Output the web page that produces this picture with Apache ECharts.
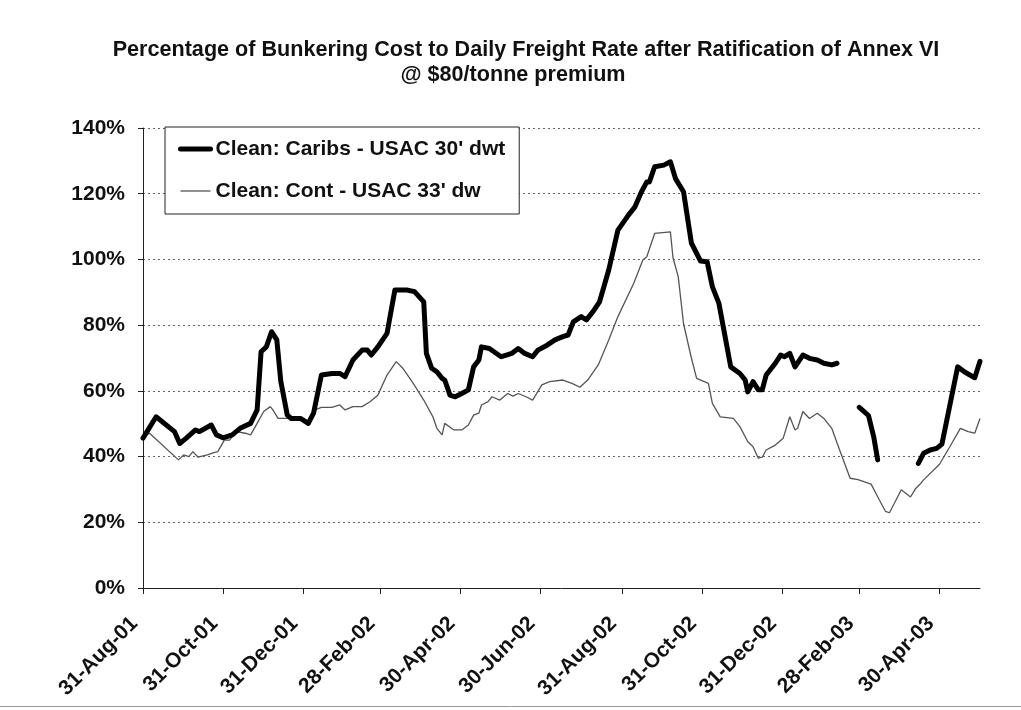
<!DOCTYPE html>
<html>
<head>
<meta charset="utf-8">
<title>Bunkering Cost vs Daily Freight Rate</title>
<script src="https://cdn.jsdelivr.net/npm/echarts@6/dist/echarts.min.js"></script>
<style>
  html, body { margin: 0; padding: 0; background: #fff; }
  #chart { width: 1021px; height: 710px; }
</style>
</head>
<body>
<div id="chart"></div>
<script>
// X values are days elapsed since 31-Aug-01; Y values are percentages.
const tickDays = [0, 61, 122, 181, 242, 303, 365, 426, 487, 546, 607];
const tickLabels = ['31-Aug-01', '31-Oct-01', '31-Dec-01', '28-Feb-02', '30-Apr-02', '30-Jun-02',
                    '31-Aug-02', '31-Oct-02', '31-Dec-02', '28-Feb-03', '30-Apr-03'];
const lastDay = 638;

const yTicks = [0, 20, 40, 60, 80, 100, 120, 140];

const titleLines = ['Percentage of Bunkering Cost to Daily Freight Rate after Ratification of Annex VI',
                    '@ $80/tonne premium'];
const seriesNames = ["Clean: Caribs - USAC 30' dwt", "Clean: Cont - USAC 33' dw"];

// Clean: Caribs - USAC 30' dwt  (null = no quote)
const caribs = [
  [0,45.6],[10,52.1],[24,47.6],[28,44.0],[33,45.6],[40,48.1],[43,47.6],[52,49.6],[56,46.6],[61,45.7],
  [68,46.6],[74,48.6],[82,50.1],[87,54.2],[90,71.9],[94,73.4],[98,78.0],[102,75.5],[105,63.0],[110,52.6],
  [113,51.6],[120,51.6],[126,50.1],[130,53.2],[136,64.8],[144,65.3],[150,65.3],[154,64.3],[160,69.4],[167,72.4],
  [171,72.4],[174,70.9],[179,73.4],[186,77.5],[192,90.7],[201,90.7],[207,90.2],[214,87.1],[216,71.4],[220,66.9],
  [224,65.8],[228,63.8],[230,63.3],[234,58.7],[238,58.2],[243,59.2],[248,60.3],[252,67.3],[256,69.4],[258,73.4],
  [264,72.9],[273,70.4],[277,70.9],[281,71.4],[286,72.9],[291,71.4],[297,70.4],[301,72.4],[308,73.9],[314,75.5],
  [320,76.5],[324,77.0],[328,81.0],[334,82.6],[338,81.6],[343,84.1],[348,87.1],[355,96.8],[362,108.9],[370,113.5],
  [375,116.0],[380,120.6],[384,123.6],[386,123.6],[390,128.2],[397,128.7],[402,129.7],[406,124.5],[412,120.6],[418,105.0],
  [425,99.5],[430,99.3],[434,91.7],[439,86.6],[448,67.3],[455,65.3],[459,63.3],[461,59.7],[465,62.8],[469,60.3],
  [472,60.3],[475,64.8],[482,68.4],[486,70.9],[489,70.4],[493,71.4],[497,67.3],[503,70.9],[508,69.9],[514,69.4],
  [519,68.4],[525,67.9],[529,68.4],[537,null],[546,55.0],[553,52.5],[557,46.0],[560,39.0],[575,null],[591,37.9],
  [595,41.0],[600,42.0],[605,42.5],[609,43.8],[621,67.3],[626,65.8],[634,64.0],[638,69.0]
];

// Clean: Cont - USAC 33' dw
const cont = [
  [0,46.1],[5,47.1],[27,39.0],[31,40.5],[35,40.0],[38,41.5],[42,39.8],[49,40.5],[54,41.2],[57,41.5],
  [62,45.0],[66,45.0],[71,47.6],[78,47.1],[82,46.6],[87,50.1],[92,53.7],[97,55.2],[99,54.2],[103,51.6],
  [110,51.6],[120,51.6],[126,50.6],[131,54.2],[136,55.0],[144,55.0],[150,55.7],[154,54.2],[160,55.2],[167,55.2],
  [173,56.7],[179,58.7],[186,64.8],[193,68.9],[198,66.9],[206,62.3],[214,57.2],[221,52.1],[224,48.6],[228,46.6],
  [230,50.1],[237,48.1],[243,48.1],[248,49.6],[252,52.6],[256,53.2],[258,55.7],[263,56.7],[266,58.2],[272,57.2],
  [278,59.2],[282,58.4],[286,59.2],[292,58.2],[297,57.2],[304,61.8],[310,62.8],[320,63.3],[327,62.3],[333,61.1],
  [339,63.3],[347,67.9],[355,75.5],[362,82.6],[374,92.7],[381,99.8],[384,100.8],[390,107.9],[402,108.4],[404,100.5],
  [408,94.7],[412,80.5],[418,70.0],[422,63.8],[431,62.3],[434,56.2],[440,52.1],[450,51.6],[455,49.1],[461,44.5],
  [465,43.0],[469,39.5],[472,39.8],[475,42.0],[482,43.5],[488,45.6],[493,52.1],[497,48.1],[499,48.6],[503,53.7],
  [508,51.6],[514,53.2],[519,51.6],[525,48.6],[531,42.0],[539,33.4],[545,33.0],[555,31.6],[561,27.0],[566,23.3],
  [569,22.9],[578,29.9],[585,27.7],[589,30.3],[593,31.9],[595,32.9],[607,37.6],[615,43.0],[623,48.6],[629,47.6],
  [634,47.1],[638,51.6]
];

const FONT = "'Liberation Sans', Arial, sans-serif";
const titleStyle = { fontFamily: FONT, fontSize: 21.6, fontWeight: 'bold', color: '#111' };
const chart = echarts.init(document.getElementById('chart'), null, { renderer: 'canvas' });

chart.setOption({
  backgroundColor: '#ffffff',
  animation: false,
  title: [
    { text: titleLines[0], left: 521, top: 34, textAlign: 'center', textStyle: titleStyle },
    { text: titleLines[1], left: 508, top: 59, textAlign: 'center', textStyle: titleStyle }
  ],
  // lower edge of the chart frame
  graphic: [{
    type: 'line',
    shape: { x1: 0, y1: 706.5, x2: 1021, y2: 706.5 },
    style: { stroke: '#9a9a9a', lineWidth: 1 },
    silent: true
  }],
  legend: {
    orient: 'vertical',
    left: 165,
    top: 127,
    padding: [11, 14, 12, 13],
    itemGap: 20,
    itemWidth: 30,
    itemHeight: 14,
    backgroundColor: '#fff',
    borderColor: '#222',
    borderWidth: 1,
    data: seriesNames,
    itemStyle: { opacity: 0 },
    lineStyle: { width: 'inherit' },
    textStyle: { fontFamily: FONT, fontSize: 21, fontWeight: 'bold', color: '#111', lineHeight: 22 }
  },
  grid: { left: 143, right: 41, top: 128, bottom: 122, containLabel: false },
  xAxis: {
    type: 'value',
    min: 0,
    max: lastDay,
    axisLine: { show: true, lineStyle: { color: '#222', width: 1 } },
    axisTick: { show: true, customValues: tickDays, length: 6, lineStyle: { color: '#222' } },
    axisLabel: {
      customValues: tickDays,
      rotate: 45,
      margin: 24,
      padding: [0, 12, 0, 0],
      fontFamily: FONT,
      fontSize: 21,
      fontWeight: 'bold',
      color: '#111',
      formatter: function (v) {
        const i = tickDays.indexOf(Math.round(v));
        return i >= 0 ? tickLabels[i] : '';
      }
    },
    splitLine: { show: false }
  },
  yAxis: {
    type: 'value',
    min: yTicks[0],
    max: yTicks[yTicks.length - 1],
    interval: 20,
    axisLine: { show: true, lineStyle: { color: '#222', width: 1 } },
    axisTick: { show: true, length: 5, lineStyle: { color: '#222' } },
    axisLabel: {
      margin: 18,
      fontFamily: FONT,
      fontSize: 21,
      fontWeight: 'bold',
      color: '#111',
      formatter: '{value}%'
    },
    splitLine: { show: true, lineStyle: { color: '#666', width: 1, type: [2, 3] } }
  },
  series: [
    {
      name: seriesNames[0],
      type: 'line',
      data: caribs,
      showSymbol: false,
      symbol: 'none',
      connectNulls: false,
      z: 3,
      lineStyle: { color: '#000', width: 5, cap: 'round', join: 'round' },
      itemStyle: { color: '#000' }
    },
    {
      name: seriesNames[1],
      type: 'line',
      data: cont,
      showSymbol: false,
      symbol: 'none',
      z: 2,
      lineStyle: { color: '#555', width: 1.3 },
      itemStyle: { color: '#555' }
    }
  ]
});
</script>
</body>
</html>
